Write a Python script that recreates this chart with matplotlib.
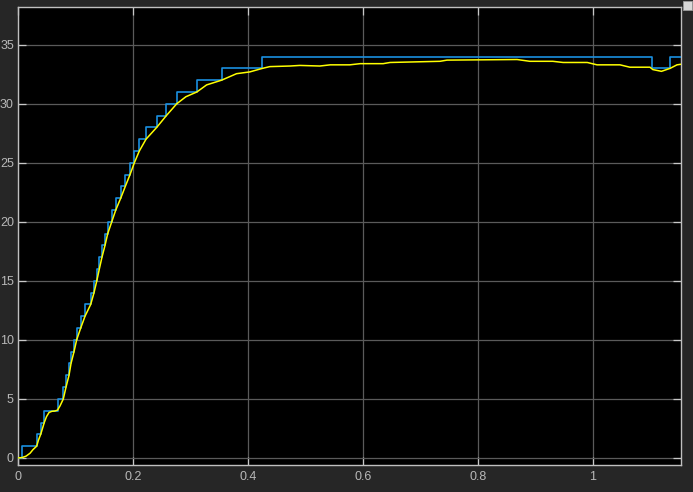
import matplotlib
matplotlib.use("Agg")
import matplotlib.pyplot as plt
from matplotlib.patches import Rectangle

# Quantized (blue) step signal: switch times and held values
step_t = [0.0, 0.0075, 0.0325, 0.0395, 0.0457, 0.0687, 0.0788, 0.0835, 0.0887,
          0.0922, 0.0974, 0.102, 0.109, 0.1165, 0.1264, 0.1322, 0.137, 0.1414,
          0.146, 0.1513, 0.156, 0.163, 0.170, 0.1786, 0.1866, 0.1948, 0.2023,
          0.211, 0.2226, 0.2412, 0.258, 0.276, 0.311, 0.354, 0.425, 1.102,
          1.134, 1.153]
step_v = [0, 1, 2, 3, 4, 5, 6, 7, 8, 9, 10, 11, 12, 13, 14, 15, 16, 17, 18, 19,
          20, 21, 22, 23, 24, 25, 26, 27, 28, 29, 30, 31, 32, 33, 34, 33, 34, 34]

# Continuous (yellow) signal
sig_t = [0.000, 0.007, 0.014, 0.021, 0.026, 0.0325, 0.0355, 0.0395, 0.0426,
         0.0457, 0.0496, 0.054, 0.059, 0.064, 0.0687, 0.073, 0.0788, 0.0835,
         0.0887, 0.0922, 0.0974, 0.102, 0.109, 0.1165, 0.1264, 0.1322, 0.137,
         0.1414, 0.146, 0.1513, 0.156, 0.163, 0.170, 0.1786, 0.1866, 0.1948,
         0.2023, 0.211, 0.2226, 0.2412, 0.258, 0.276, 0.292, 0.311, 0.328,
         0.354, 0.380, 0.403, 0.425, 0.438, 0.473, 0.490, 0.525, 0.543, 0.577,
         0.595, 0.635, 0.647, 0.734, 0.746, 0.868, 0.890, 0.930, 0.948, 0.990,
         1.007, 1.047, 1.064, 1.099, 1.104, 1.119, 1.134, 1.146, 1.153]
sig_v = [0.0, 0.03, 0.15, 0.4, 0.7, 1.0, 1.5, 2.0, 2.5, 3.0, 3.5, 3.85, 3.95,
         3.97, 4.05, 4.4, 5.0, 6.0, 7.0, 8.0, 9.0, 10.0, 11.0, 12.0, 13.0, 14.0,
         15.0, 16.0, 17.0, 18.0, 19.0, 20.0, 21.0, 22.0, 23.0, 24.0, 25.0, 26.0,
         27.0, 28.0, 29.0, 30.0, 30.6, 31.0, 31.6, 32.0, 32.55, 32.7, 33.0,
         33.15, 33.2, 33.25, 33.2, 33.3, 33.3, 33.4, 33.4, 33.5, 33.6, 33.7,
         33.75, 33.6, 33.6, 33.5, 33.5, 33.3, 33.3, 33.1, 33.1, 32.9, 32.75,
         33.0, 33.3, 33.35]

x_ticks = [0, 0.2, 0.4, 0.6, 0.8, 1.0]
x_labels = ["0", "0.2", "0.4", "0.6", "0.8", "1"]
y_ticks = [0, 5, 10, 15, 20, 25, 30, 35]
y_labels = ["0", "5", "10", "15", "20", "25", "30", "35"]

plt.rcParams['font.family'] = ['Liberation Sans', 'DejaVu Sans']

fig = plt.figure(figsize=(6.93, 4.92), dpi=100, facecolor="#262626")
ax = fig.add_axes([18 / 693, 1 - 465 / 492, 663 / 693, 458 / 492])
ax.set_facecolor("black")

ax.step(step_t, step_v, where="post", color="#1a8fe0", lw=1.2, zorder=3)
ax.plot(sig_t, sig_v, color="#ffff00", lw=1.1, zorder=4)

ax.set_xlim(0, 1.153)
ax.set_ylim(-0.6, 38.2)
ax.set_xticks(x_ticks)
ax.set_xticklabels(x_labels)
ax.set_yticks(y_ticks)
ax.set_yticklabels(y_labels)

ax.grid(True, color="#5a5a5a", lw=0.9, zorder=1)
ax.tick_params(axis="both", direction="in", length=6, width=0.9,
               color="#c8c8c8", labelcolor="#b8b8b8", labelsize=9,
               top=True, right=True, pad=4)
ax.tick_params(axis="y", pad=3)
for s in ax.spines.values():
    s.set_color("#c0c0c0")
    s.set_linewidth(1.0)

# small scope toolbar button at top right
fig.patches.append(Rectangle((683 / 693, 1 - 10 / 492), 9 / 693, 9 / 492,
                             transform=fig.transFigure, facecolor="#d8d8d8",
                             edgecolor="#9a9a9a", lw=0.6))

fig.savefig("out.png", dpi=100, facecolor=fig.get_facecolor())
